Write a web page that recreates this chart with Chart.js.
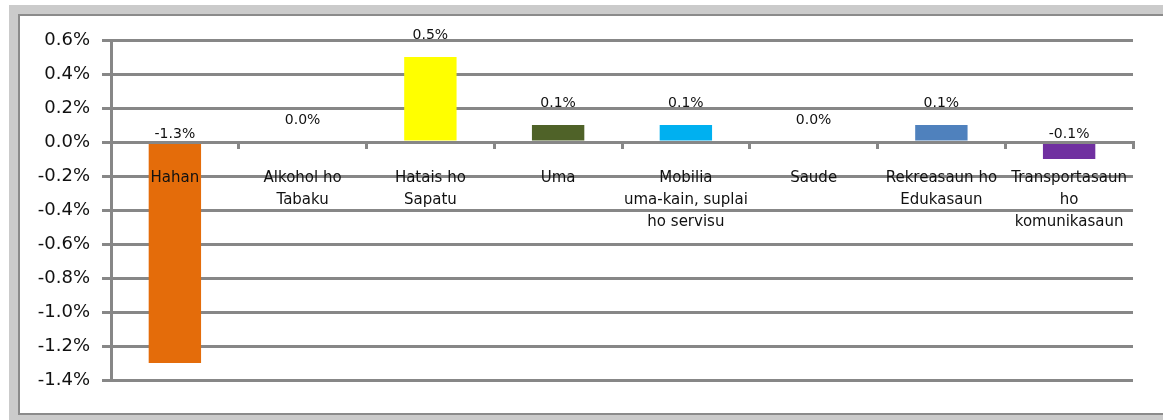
<!DOCTYPE html>
<html>
<head>
<meta charset="utf-8">
<script src="https://cdn.jsdelivr.net/npm/chart.js@4/dist/chart.umd.min.js"></script>
<style>
  html, body { margin: 0; padding: 0; background: #ffffff; width: 1163px; height: 420px; overflow: hidden; }
  #outer { position: absolute; left: 9px; top: 5px; width: 1154px; height: 415px; background: #cbcbcb; }
  #inner { position: absolute; left: 18px; top: 14px; width: 1145px; height: 401px; box-sizing: border-box;
           background: #ffffff; border-left: 2px solid #8b8b8b; border-top: 2px solid #8b8b8b; border-bottom: 2px solid #8b8b8b; }
  #wrap { position: absolute; left: 0; top: 0; width: 1163px; height: 420px; }
</style>
</head>
<body>
<div id="outer"></div>
<div id="inner"></div>
<div id="wrap"><canvas id="c" width="1163" height="420"></canvas></div>
<script>
const categories = [
  ["Hahan"],
  ["Alkohol ho", "Tabaku"],
  ["Hatais ho", "Sapatu"],
  ["Uma"],
  ["Mobilia", "uma-kain, suplai", "ho servisu"],
  ["Saude"],
  ["Rekreasaun ho", "Edukasaun"],
  ["Transportasaun", "ho", "komunikasaun"]
];
const values = [-1.3, 0.0, 0.5, 0.1, 0.1, 0.0, 0.1, -0.1];
const barColors = ["#E46C0A", "#FFFF00", "#FFFF00", "#4F6228", "#00B0F0", "#FFFFFF", "#4F81BD", "#7030A0"];
const yTicks = [0.6, 0.4, 0.2, 0.0, -0.2, -0.4, -0.6, -0.8, -1.0, -1.2, -1.4];

const FONT = "'DejaVu Sans', sans-serif";
const GRID = "#878787";
const TEXT = "#111111";

const dataLabels = {
  id: 'dataLabels',
  afterDatasetsDraw(chart) {
    const ctx = chart.ctx;
    const meta = chart.getDatasetMeta(0);
    ctx.save();
    ctx.font = "14px " + FONT;
    ctx.fillStyle = TEXT;
    ctx.textAlign = "center";
    ctx.textBaseline = "middle";
    meta.data.forEach((el, i) => {
      const v = values[i];
      const y = v >= 0 ? el.y - 22 : el.base - 9;
      ctx.fillText(v.toFixed(1) + "%", el.x, y);
    });
    ctx.restore();
  }
};

new Chart(document.getElementById('c'), {
  type: 'bar',
  data: {
    labels: categories,
    datasets: [{
      data: values,
      backgroundColor: barColors,
      borderWidth: 0,
      categoryPercentage: 1.0,
      barPercentage: 0.41
    }]
  },
  options: {
    responsive: false,
    animation: false,
    devicePixelRatio: 1,
    layout: { padding: { left: 0, top: 40, right: 30, bottom: 40 } },
    plugins: { legend: { display: false }, tooltip: { enabled: false } },
    scales: {
      x: {
        position: { y: 0 },
        offset: true,
        grid: { display: true, offset: true, drawOnChartArea: false, drawTicks: true, tickLength: 5, color: GRID, lineWidth: 3 },
        border: { display: true, color: GRID, width: 3, z: 1 },
        ticks: {
          z: 1,
          padding: 20,
          maxRotation: 0,
          autoSkip: false,
          color: TEXT,
          font: { family: FONT, size: 15, lineHeight: "22px" }
        }
      },
      y: {
        min: -1.4,
        max: 0.6,
        afterFit(scale) { scale.width = 111; },
        afterBuildTicks(scale) { scale.ticks = yTicks.map(v => ({ value: v })); },
        grid: { color: GRID, lineWidth: 3, drawTicks: true, tickLength: 9 },
        border: { display: true, color: GRID, width: 3 },
        ticks: {
          padding: 12,
          color: TEXT,
          font: { family: FONT, size: 18 },
          callback: (v) => (Math.round(v * 10) / 10).toFixed(1) + "%"
        }
      }
    }
  },
  plugins: [dataLabels]
});
</script>
</body>
</html>
